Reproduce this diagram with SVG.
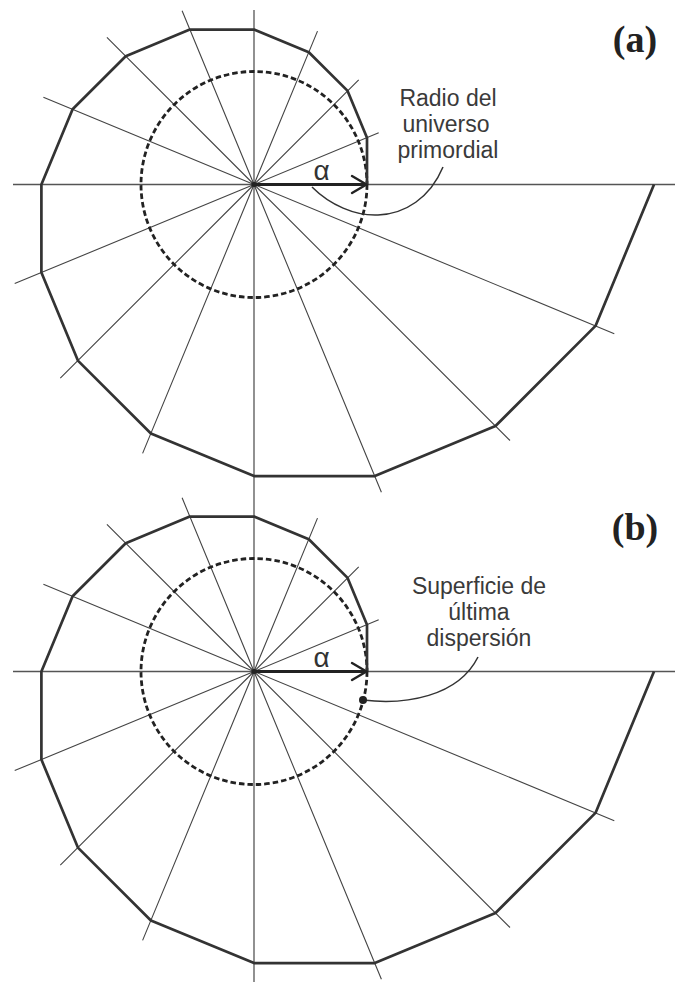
<svg xmlns="http://www.w3.org/2000/svg" xmlns:xlink="http://www.w3.org/1999/xlink" width="675" height="982" viewBox="0 0 675 982">
<style>
.axis{stroke:#555;stroke-width:1.3;fill:none}
.ray{stroke:#444;stroke-width:1.1;fill:none}
.spiral{stroke:#333;stroke-width:2.7;fill:none;stroke-linejoin:round}
.circ{stroke:#222;stroke-width:2.8;fill:none;stroke-dasharray:5.5 3}
.arrow{stroke:#222;stroke-width:3;fill:none}
.head{stroke:#222;stroke-width:2.4;fill:none;stroke-linecap:round;stroke-linejoin:round}
.lead{stroke:#333;stroke-width:1.5;fill:none}
.lbl{font-family:"Liberation Sans",Arial,sans-serif;font-size:23px;fill:#3a3a3a;text-anchor:middle}
.alpha{font-family:"Liberation Sans",Arial,sans-serif;font-size:28px;fill:#333;text-anchor:middle}
.tag{font-family:"Liberation Serif","Times New Roman",serif;font-size:38px;font-weight:bold;fill:#222;text-anchor:middle}
</style>
<defs>
<g id="geom">
<path class="ray" d="M254,184.5L378.7,132.8M254,184.5L358.7,79.8M254,184.5L317.5,31.1M254,184.5L182.1,10.8M254,184.5L106.9,37.4M254,184.5L43.4,97.2M254,184.5L14.7,283.6M254,184.5L60.3,378.2M254,184.5L142.6,453.4M254,184.5L381.4,492.2M254,184.5L510,440.5M254,184.5L614.3,333.7"/>
<circle class="circ" cx="254" cy="184.5" r="113"/>
<polyline class="spiral" points="367,184.5 367,137.7 347.6,90.9 308.8,52.2 254,29.5 189.8,29.6 125.7,56.2 72.6,109.3 41.4,184.5 41.4,272.6 77.9,360.6 150.9,433.5 254,476.1 374.8,476.1 495.5,426 595.5,325.9 654,184.5"/>
<line class="arrow" x1="254" y1="184.5" x2="366" y2="184.5"/>
<polyline class="head" points="352,176 366.5,184.5 352,193"/>
<circle cx="254" cy="184.5" r="2.5" fill="#222"/>
<text class="alpha" x="321.5" y="180">α</text>
</g>
</defs>
<g id="panel-a">
<line class="axis" x1="13" y1="184.5" x2="675" y2="184.5"/>
<line class="axis" x1="254" y1="10" x2="254" y2="498"/>
<use xlink:href="#geom"/>
<text class="tag" x="635" y="52">(a)</text>
</g>
<g id="panel-b">
<line class="axis" x1="13" y1="671.5" x2="675" y2="671.5"/>
<line class="axis" x1="254" y1="498" x2="254" y2="982"/>
<use xlink:href="#geom" transform="translate(0,487)"/>
<text class="tag" x="635" y="540">(b)</text>
</g>
<g id="label-a">
<text class="lbl" x="448" y="106">Radio del</text>
<text class="lbl" x="446" y="132">universo</text>
<text class="lbl" x="448" y="158">primordial</text>
</g>
<g id="label-b">
<text class="lbl" x="479" y="594">Superficie de</text>
<text class="lbl" x="479" y="620">última</text>
<text class="lbl" x="479" y="646">dispersión</text>
</g>
<g id="connectors">
<path class="lead" d="M312,187 C330,205 355,216 378,215 C405,214 430,198 443,167"/>
<path class="lead" d="M363,700 C405,705 458,697 478,657"/>
<circle cx="363" cy="700" r="4" fill="#222"/>
</g>
</svg>
